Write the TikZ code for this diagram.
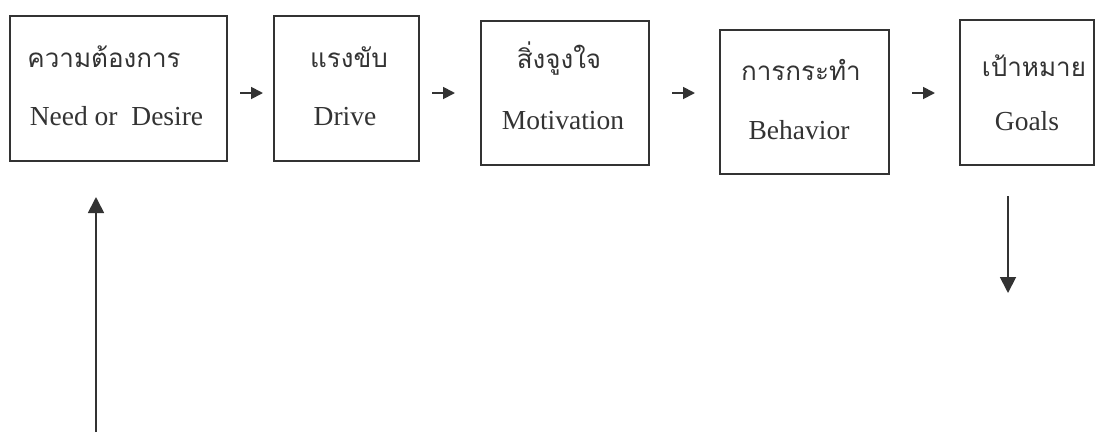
\documentclass[tikz,border=0pt]{standalone}
\usepackage{fontspec}
\setmainfont{Liberation Serif}
\newfontfamily\thaifont[Script=Thai]{Loma}
\usetikzlibrary{arrows.meta}
\definecolor{ink}{HTML}{333333}
\tikzset{
  box/.style={draw=ink, line width=1.8pt, anchor=north west, inner sep=0pt},
  th/.style={anchor=base, text=ink, font=\thaifont\fontsize{26}{30}\selectfont, inner sep=0pt},
  en/.style={anchor=base, text=ink, font=\fontsize{27.5}{32}\selectfont, inner sep=0pt},
  sarr/.style={draw=ink, line width=1.8pt, -{Triangle[length=12pt,width=12pt]}},
  varr/.style={draw=ink, line width=1.8pt, -{Triangle[length=16pt,width=16pt]}}
}
\begin{document}
\begin{tikzpicture}[x=1pt,y=-1pt]
\useasboundingbox (0,0) rectangle (1095,432);
% boxes
\node[box, minimum width=217pt, minimum height=145pt] (b1) at (9,15) {};
\node[box, minimum width=145pt, minimum height=145pt] (b2) at (273,15) {};
\node[box, minimum width=168pt, minimum height=144pt] (b3) at (480,20) {};
\node[box, minimum width=169pt, minimum height=144pt] (b4) at (719,29) {};
\node[box, minimum width=134pt, minimum height=145pt] (b5) at (959,19) {};
% texts
\node[th] (t1) at (104,67) {ความต้องการ};
\node[en] (e1) at (116.5,125) {Need or\ \ Desire};
\node[th] (t2) at (349,67) {แรงขับ};
\node[en] (e2) at (345,125) {Drive};
\node[th] (t3) at (559,68) {สิ่งจูงใจ};
\node[en] (e3) at (563,129) {Motivation};
\node[th] (t4) at (801,80) {การกระทำ};
\node[en] (e4) at (799,139) {Behavior};
\node[th] (t5) at (1034,76) {เป้าหมาย};
\node[en] (e5) at (1027,130) {Goals};
% arrow end points
\coordinate (a1s) at (240,93); \coordinate (a1e) at (263,93);
\coordinate (a2s) at (432,93); \coordinate (a2e) at (455,93);
\coordinate (a3s) at (672,93); \coordinate (a3e) at (695,93);
\coordinate (a4s) at (912,93); \coordinate (a4e) at (935,93);
\coordinate (us) at (96,432); \coordinate (ue) at (96,197);
\coordinate (ds) at (1008,196); \coordinate (de) at (1008,293);
\draw[sarr] (a1s) -- (a1e);
\draw[sarr] (a2s) -- (a2e);
\draw[sarr] (a3s) -- (a3e);
\draw[sarr] (a4s) -- (a4e);
\draw[varr] (us) -- (ue);
\draw[varr] (ds) -- (de);
\end{tikzpicture}
\end{document}
